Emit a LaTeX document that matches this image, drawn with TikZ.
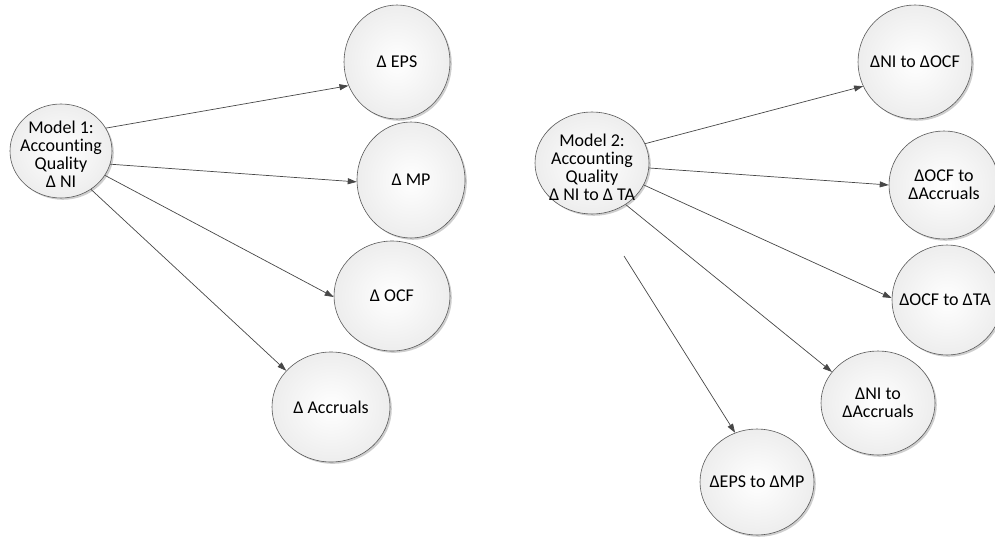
\documentclass[tikz,border=0pt]{standalone}
\usepackage{fontspec}
\setmainfont[Ligatures={NoCommon}]{Carlito}
\usetikzlibrary{shapes.geometric,arrows.meta,shadows}
\begin{document}
\begin{tikzpicture}[x=1pt,y=-1pt,
 bub/.style={ellipse, draw=black!65, line width=0.6pt, inner sep=0pt,
   shading=radial, inner color=white, outer color=black!7,
   drop shadow={shadow xshift=1.8pt, shadow yshift=-1.8pt, opacity=0.35, fill=black!55}},
 lbl/.style={align=center, font=\fontsize{18}{18}\selectfont, inner sep=0pt},
 arr/.style={draw=black!72, line width=0.7pt, -{Triangle[length=9pt,width=6pt]}}]
\useasboundingbox (0,0) rectangle (995,538);
% left group
\node[bub, minimum width=102pt, minimum height=94pt] (m1) at (61,151) {};
\node[lbl, yshift=-3pt] (m1t) at (m1) {Model 1:\\Accounting\\Quality\\Δ NI};
\node[bub, minimum width=106pt, minimum height=114pt] (eps) at (397,62) {};
\node[lbl] (epst) at (eps) {Δ EPS};
\node[bub, minimum width=108pt, minimum height=116pt] (mp) at (411,180) {};
\node[lbl] (mpt) at (mp) {Δ MP};
\node[bub, minimum width=116pt, minimum height=110pt] (ocf) at (392,296) {};
\node[lbl] (ocft) at (ocf) {Δ OCF};
\node[bub, minimum width=118pt, minimum height=110pt] (acc) at (331,407) {};
\node[lbl] (acct) at (acc) {Δ Accruals};
% right group
\node[bub, minimum width=114pt, minimum height=102pt] (m2) at (592,163) {};
\node[lbl, yshift=-4pt] (m2t) at (m2) {Model 2:\\Accounting\\Quality\\Δ NI to Δ TA};
\node[bub, minimum width=114pt, minimum height=114pt] (niocf) at (915,62) {};
\node[lbl] (niocft) at (niocf) {ΔNI to ΔOCF};
\node[bub, minimum width=110pt, minimum height=108pt] (ocfacc) at (944,185) {};
\node[lbl] (ocfacct) at (ocfacc) {ΔOCF to\\ΔAccruals};
\node[bub, minimum width=110pt, minimum height=110pt] (ocfta) at (947,300) {};
\node[lbl] (ocftat) at ([xshift=-2pt]ocfta.center) {ΔOCF to ΔTA};
\node[bub, minimum width=114pt, minimum height=104pt] (niacc) at (878,403) {};
\node[lbl] (niacct) at (niacc) {ΔNI to\\ΔAccruals};
\node[bub, minimum width=114pt, minimum height=106pt] (epsmp) at (757,482) {};
\node[lbl] (epsmpt) at (epsmp) {ΔEPS to ΔMP};
\coordinate (s5) at (624,256);
% connectors
\draw[arr] (m1.27) -- (eps.206);
\draw[arr] (m1.345) -- (mp.182);
\draw[arr] (m1.331) -- (ocf.181);
\draw[arr] (m1.308) -- (acc.141);
\draw[arr] (m2.20) -- (niocf.205);
\draw[arr] (m2.355) -- (ocfacc.180);
\draw[arr] (m2.337) -- (ocfta.178);
\draw[arr] (m2.309) -- (niacc.146);
\draw[arr] (s5) -- (epsmp.114);
\end{tikzpicture}
\end{document}
